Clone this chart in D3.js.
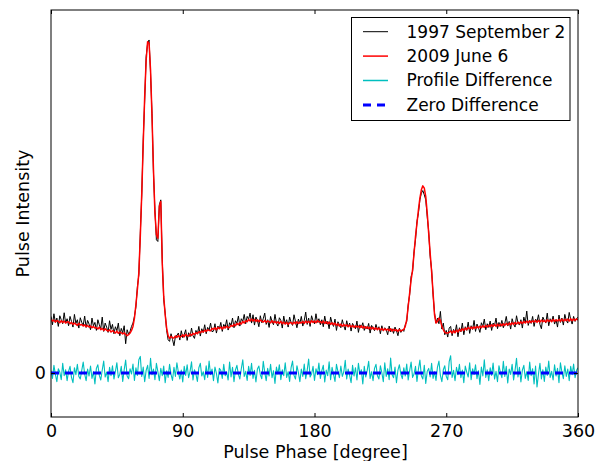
<!DOCTYPE html>
<html>
<head>
<meta charset="utf-8">
<script src="https://cdn.jsdelivr.net/npm/d3@7"></script>
<style>
  body { margin: 0; background: #fff; }
  svg { display: block; font-family: "DejaVu Sans", sans-serif; }
</style>
</head>
<body>
<svg width="602" height="461"></svg>
<script>
'use strict';

// one bin per degree of pulse phase, intensity in arbitrary units (main peak ~ 1000)
const phaseStep = 1;
const phaseTicks = [0, 90, 180, 270, 360];
const intensityTicks = [0];
const legendLabels = ["1997 September 2", "2009 June 6", "Profile Difference", "Zero Difference"];

const profile1997 = [
  170,145,178,152,165,140,172,160,148,181,150,163,142,170,155,138,176,149,160,135,
  166,152,143,171,137,158,147,130,165,141,152,128,160,145,133,168,125,150,138,122,
  157,131,146,118,139,127,150,112,134,121,142,88,130,117,125,140,
  150,170,198,258,295,420,535,700,820,950,990,1000,900,780,600,490,400,395,505,520,340,220,180,128,100,
  95,118,101,82,110,113,120,99,127,106,115,130,98,121,109,135,112,104,128,117,140,111,133,122,145,118,137,129,150,124,
  126,148,120,141,133,152,125,146,138,160,129,151,143,165,136,157,149,171,141,163,155,176,148,170,162,180,
  150,175,144,168,158,139,172,151,163,180,146,160,137,170,154,145,176,150,141,166,
  158,135,171,147,160,138,168,152,143,175,155,136,162,149,170,141,158,183,146,165,
  140,172,157,148,178,152,163,145,
  160,139,171,147,155,133,168,150,140,162,128,154,145,136,160,142,129,157,138,150,
  126,149,141,133,156,122,145,137,151,128,140,132,149,120,143,135,127,146,131,139,
  118,142,126,136,130,115,141,124,133,119,138,127,112,135,122,130,
  125,145,155,205,235,290,305,365,400,455,480,520,540,548,535,520,470,425,350,310,
  235,180,150,165,148,185,132,150,115,128,108,135,
  140,112,131,120,145,109,136,124,150,115,139,128,153,119,
  142,131,158,125,147,136,122,151,140,162,130,148,137,156,128,150,143,165,133,152,140,
  158,136,149,170,141,155,132,163,147,138,172,150,144,160,135,168,151,186,143,158,
  149,170,140,162,155,175,146,133,168,158,150,180,142,163,155,171,147,160,138,174,
  152,165,144,176,158,150,182,161,147,170,155,164,167
];

const profile2009 = [
  161,156,159,153,158,155,151,157,152,156,150,154,153,148,152,146,150,147,143,149,
  144,146,141,145,139,143,138,141,136,140,135,137,132,138,130,134,128,133,129,126,
  130,123,127,124,120,126,119,123,121,117,121,116,112,115,120,128,
  140,165,205,250,300,410,540,690,830,940,995,990,910,770,610,480,415,405,500,515,330,230,175,135,112,
  104,110,106,105,111,107,113,108,110,115,109,116,112,111,117,113,119,116,121,118,124,121,126,123,129,125,130,128,127,134,
  131,136,130,137,133,138,132,139,135,141,136,137,143,140,146,142,149,145,151,147,155,150,157,154,161,156,
  162,156,161,155,160,154,159,156,153,158,152,157,154,151,
  157,151,155,150,154,149,155,148,153,147,152,146,151,
  152,147,153,148,154,149,153,150,155,149,156,151,
  155,150,157,152,156,151,158,153,155,
  150,156,149,154,148,153,146,151,145,150,143,148,141,
  147,140,146,141,145,139,144,138,143,137,142,138,141,136,
  142,135,140,134,139,133,138,132,137,131,136,130,135,129,
  134,128,133,129,132,127,133,126,131,127,130,125,131,126,129,
  131,140,160,200,240,280,310,360,410,450,490,525,550,562,555,530,480,420,360,305,
  240,175,150,155,165,158,140,130,122,120,120,122,
  126,120,127,121,129,123,131,126,133,128,135,130,137,132,
  138,133,139,134,140,135,141,136,142,137,143,138,144,139,145,140,146,140,147,141,147,
  142,148,143,149,144,150,145,151,146,152,147,153,148,154,149,155,150,156,151,157,
  152,157,153,158,152,158,153,159,154,158,153,160,155,159,154,161,155,160,156,161,
  155,162,156,161,157,162,156,163,157,162,158,163,159
];

const profileDiff = [
  7,-16,23,-4,-26,13,3,-20,29,-8,10,-23,5,20,-13,-29,16,-5,26,-10,
  -18,8,33,-3,-23,12,-9,21,-16,4,-33,14,25,-7,-21,9,36,-12,3,-26,
  17,-8,22,-18,5,31,-14,-4,20,-25,10,39,-9,-17,13,-3,27,-22,16,-7,
  40,50,-10,18,-26,8,23,-16,44,-5,12,-20,29,4,-23,14,-8,21,-29,7,
  -13,26,-4,-22,17,-10,31,3,-18,9,-27,20,-7,25,-14,5,34,-21,10,-3,
  -25,16,29,-9,4,-20,22,-13,36,-5,12,-23,18,-1,-30,14,8,-16,26,-8,
  3,-21,33,-12,17,-26,9,23,-4,-18,13,40,-10,5,-22,20,-7,29,-16,8,
  -27,12,21,-5,-17,35,3,-23,14,-9,26,-14,7,-31,18,-3,25,-20,10,-8,
  31,-13,4,-25,16,36,-7,-18,22,1,-26,12,-10,27,-17,8,42,-12,-3,20,
  -22,13,-5,30,-16,7,23,-27,9,-8,34,-20,17,-4,-25,26,5,-14,21,-10,
  3,38,-18,12,-7,-29,23,-9,16,-21,29,-3,10,-33,20,-12,8,35,-16,4,
  -23,14,26,-8,-18,22,1,-26,31,-10,13,-20,45,-5,-14,18,-29,9,25,-4,
  -17,16,-9,27,-21,7,33,-13,-3,20,-25,12,39,-8,-18,23,-31,5,14,-12,
  29,-16,4,-22,18,36,-7,-26,10,22,-10,-20,34,52,-13,8,-23,17,-5,26,
  -14,9,-29,21,3,-12,31,-20,13,-4,25,-17,7,-34,18,-9,40,-13,10,-23,
  16,-7,30,-18,5,-26,22,1,-14,35,-10,20,-30,12,-4,26,-21,8,44,-12,
  17,-27,9,23,-16,4,-22,33,-8,13,-33,21,-42,-3,29,-18,10,-25,18,-7,
  36,-13,5,-21,25,-9,14,-29,31,3,-17,22,-10,12,-23,20,-5,27,-14,8,
  16
];

const zeroPhase = [0, 360];
const zeroValue = [0, 0];

const svg = d3.select("svg");
const plot = {left: 51, right: 578, top: 10, bottom: 417};

const x = d3.scaleLinear().domain([0, 360]).range([plot.left, plot.right]);
const y = d3.scaleLinear().domain([-132, 1090]).range([plot.bottom, plot.top]);

svg.append("defs").append("clipPath").attr("id", "clip")
  .append("rect")
  .attr("x", plot.left).attr("y", plot.top)
  .attr("width", plot.right - plot.left).attr("height", plot.bottom - plot.top);

const line = d3.line()
  .x((d, i) => x(i * phaseStep))
  .y(d => y(d));

const series = [
  {values: profile1997, color: "#000000", width: 1},
  {values: profile2009, color: "#ff0000", width: 1.5},
  {values: profileDiff, color: "#00bfbf", width: 1.1}
];

const plotArea = svg.append("g").attr("clip-path", "url(#clip)");

series.forEach(s => {
  plotArea.append("path")
    .datum(s.values)
    .attr("fill", "none")
    .attr("stroke", s.color)
    .attr("stroke-width", s.width)
    .attr("stroke-linejoin", "round")
    .attr("d", line);
});

plotArea.append("path")
  .datum(zeroPhase.map((p, i) => [p, zeroValue[i]]))
  .attr("fill", "none")
  .attr("stroke", "#0000ff")
  .attr("stroke-width", 3)
  .attr("stroke-dasharray", "8,6")
  .attr("d", d3.line().x(d => x(d[0])).y(d => y(d[1])));

// axes, matplotlib classic style: ticks point inwards on all four sides
function styleAxis(g) {
  g.select(".domain").remove();
  g.selectAll(".tick line").attr("stroke", "#000");
  g.selectAll(".tick text")
    .attr("fill", "#000")
    .style("font-size", "17.5px")
    .style("font-family", "DejaVu Sans");
}

svg.append("g")
  .attr("transform", `translate(0,${plot.bottom})`)
  .call(d3.axisBottom(x).tickValues(phaseTicks).tickSizeInner(-4).tickSizeOuter(0).tickPadding(8))
  .call(styleAxis);

svg.append("g")
  .attr("transform", `translate(0,${plot.top})`)
  .call(d3.axisTop(x).tickValues(phaseTicks).tickSizeInner(-4).tickSizeOuter(0).tickFormat(""))
  .call(styleAxis);

svg.append("g")
  .attr("transform", `translate(${plot.left},0)`)
  .call(d3.axisLeft(y).tickValues(intensityTicks).tickSizeInner(-4).tickSizeOuter(0).tickPadding(5))
  .call(styleAxis);

svg.append("g")
  .attr("transform", `translate(${plot.right},0)`)
  .call(d3.axisRight(y).tickValues(intensityTicks).tickSizeInner(-4).tickSizeOuter(0).tickFormat(""))
  .call(styleAxis);

svg.append("rect")
  .attr("x", plot.left).attr("y", plot.top)
  .attr("width", plot.right - plot.left).attr("height", plot.bottom - plot.top)
  .attr("fill", "none").attr("stroke", "#000").attr("stroke-width", 1);

svg.append("text")
  .attr("x", (plot.left + plot.right) / 2 + 1)
  .attr("y", 458)
  .attr("text-anchor", "middle")
  .style("font-size", "17.5px")
  .text("Pulse Phase [degree]");

svg.append("text")
  .attr("transform", `translate(29,${(plot.top + plot.bottom) / 2}) rotate(-90)`)
  .attr("text-anchor", "middle")
  .style("font-size", "17.5px")
  .text("Pulse Intensity");

// legend
const legendStyles = [
  {color: "#000000", width: 1, dash: null},
  {color: "#ff0000", width: 1.5, dash: null},
  {color: "#00bfbf", width: 1.5, dash: null},
  {color: "#0000ff", width: 3, dash: "8,6"}
];
const legend = svg.append("g").attr("transform", "translate(351.5,17.5)");
legend.append("rect")
  .attr("width", 218.5).attr("height", 103)
  .attr("fill", "#fff").attr("stroke", "#000").attr("stroke-width", 1);

const rows = legend.selectAll(".row")
  .data(legendLabels)
  .join("g")
  .attr("class", "row")
  .attr("transform", (d, i) => `translate(0,${14.2 + i * 24.4})`);

rows.append("line")
  .attr("x1", 11.5).attr("x2", 36.5)
  .attr("stroke", (d, i) => legendStyles[i].color)
  .attr("stroke-width", (d, i) => legendStyles[i].width)
  .attr("stroke-dasharray", (d, i) => legendStyles[i].dash);

rows.append("text")
  .attr("x", 55)
  .attr("dy", "0.35em")
  .style("font-size", "17px")
  .text(d => d);
</script>
</body>
</html>
